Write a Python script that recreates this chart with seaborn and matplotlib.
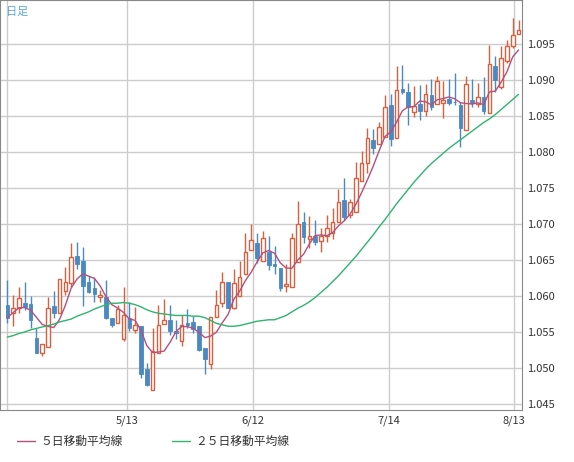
import numpy as np
import pandas as pd
import matplotlib
matplotlib.use("Agg")
import matplotlib.pyplot as plt
import seaborn as sns

# daily candles (open, high, low, close)
opens = [1.0588,1.0576,1.0584,1.0590,1.0589,1.0542,1.0521,1.0529,1.0586,1.0576,1.0607,1.0618,1.0656,1.0649,1.0619,1.0611,1.0598,1.0598,1.0570,1.0562,1.0540,1.0570,
         1.0553,1.0559,1.0498,1.0470,1.0521,1.0561,1.0567,1.0552,1.0538,1.0562,1.0564,1.0559,1.0528,1.0506,1.0571,1.0590,1.0620,1.0583,1.0600,1.0630,1.0664,1.0674,
         1.0649,1.0661,1.0644,1.0639,1.0614,1.0612,1.0647,1.0703,1.0679,1.0683,1.0676,1.0684,1.0687,1.0703,1.0733,1.0713,1.0717,1.0760,1.0785,1.0817,1.0811,1.0821,
         1.0865,1.0820,1.0888,1.0883,1.0855,1.0867,1.0857,1.0879,1.0866,1.0868,1.0874,1.0870,1.0865,1.0831,1.0872,1.0867,1.0876,1.0854,1.0919,1.0890,1.0927,1.0947,1.0964]
highs = [1.0622,1.0601,1.0613,1.0619,1.0600,1.0555,1.0534,1.0598,1.0607,1.0623,1.0640,1.0673,1.0675,1.0668,1.0628,1.0627,1.0608,1.0622,1.0570,1.0587,1.0612,1.0592,
         1.0585,1.0559,1.0507,1.0556,1.0587,1.0596,1.0588,1.0567,1.0574,1.0582,1.0572,1.0559,1.0528,1.0571,1.0608,1.0633,1.0620,1.0637,1.0648,1.0687,1.0700,1.0687,
         1.0690,1.0683,1.0670,1.0639,1.0645,1.0688,1.0732,1.0716,1.0711,1.0705,1.0694,1.0713,1.0722,1.0749,1.0764,1.0735,1.0786,1.0801,1.0834,1.0832,1.0841,1.0879,
         1.0881,1.0919,1.0921,1.0896,1.0892,1.0893,1.0895,1.0902,1.0906,1.0899,1.0902,1.0910,1.0870,1.0905,1.0902,1.0896,1.0904,1.0949,1.0933,1.0947,1.0956,1.0986,1.0984]
lows = [1.0562,1.0559,1.0576,1.0580,1.0555,1.0521,1.0517,1.0529,1.0570,1.0576,1.0601,1.0613,1.0638,1.0586,1.0604,1.0592,1.0592,1.0568,1.0557,1.0562,1.0538,1.0551,
        1.0549,1.0486,1.0475,1.0470,1.0521,1.0561,1.0546,1.0540,1.0530,1.0556,1.0549,1.0523,1.0492,1.0499,1.0571,1.0585,1.0583,1.0582,1.0600,1.0630,1.0664,1.0646,
        1.0649,1.0636,1.0630,1.0607,1.0606,1.0612,1.0647,1.0674,1.0666,1.0671,1.0661,1.0675,1.0679,1.0703,1.0705,1.0709,1.0717,1.0760,1.0771,1.0797,1.0811,1.0821,
        1.0808,1.0820,1.0881,1.0838,1.0849,1.0844,1.0850,1.0859,1.0866,1.0847,1.0865,1.0865,1.0807,1.0831,1.0863,1.0863,1.0853,1.0854,1.0884,1.0888,1.0923,1.0944,1.0964]
closes = [1.0570,1.0584,1.0597,1.0585,1.0566,1.0521,1.0534,1.0583,1.0577,1.0623,1.0619,1.0654,1.0645,1.0614,1.0606,1.0603,1.0601,1.0570,1.0560,1.0582,1.0573,1.0556,
          1.0560,1.0492,1.0476,1.0523,1.0560,1.0567,1.0552,1.0549,1.0560,1.0560,1.0554,1.0525,1.0512,1.0571,1.0587,1.0619,1.0583,1.0618,1.0627,1.0661,1.0678,1.0653,
          1.0681,1.0643,1.0642,1.0611,1.0617,1.0680,1.0700,1.0682,1.0683,1.0675,1.0684,1.0695,1.0703,1.0730,1.0710,1.0730,1.0764,1.0785,1.0819,1.0805,1.0835,1.0863,
          1.0818,1.0886,1.0884,1.0863,1.0864,1.0857,1.0881,1.0862,1.0899,1.0872,1.0868,1.0869,1.0834,1.0894,1.0868,1.0876,1.0857,1.0922,1.0900,1.0930,1.0947,1.0962,1.0969]
# 25-day average as drawn (earlier history not shown)
ma25 = [1.0543,1.0545,1.0548,1.0550,1.0553,1.0555,1.0557,1.0559,1.0561,1.0564,1.0566,
        1.0568,1.0572,1.0575,1.0578,1.0582,1.0585,1.0588,
        1.0590,1.0590,1.0591,1.0590,1.0588,
        1.0585,1.0581,1.0578,1.0576,1.0575,1.0574,1.0573,1.0573,
        1.0573,1.0572,1.0572,1.0570,1.0566,1.0562,1.0560,1.0558,
        1.0558,1.0559,1.0561,1.0563,1.0565,1.0566,1.0567,
        1.0567,1.0570,1.0573,1.0578,1.0583,1.0587,1.0592,
        1.0598,1.0605,1.0612,1.0620,1.0628,1.0637,1.0646,1.0655,
        1.0665,1.0675,1.0685,1.0696,1.0706,1.0717,1.0728,1.0738,
        1.0748,1.0758,1.0767,1.0776,1.0784,1.0791,1.0798,1.0805,
        1.0811,1.0817,1.0823,1.0829,1.0835,1.0841,1.0846,1.0852,1.0859,1.0866,1.0873,1.0880]
date_ticks = [0, 20.6, 42.3, 65.7, 87.2]
date_labels = ["", "5/13", "6/12", "7/14", "8/13"]
price_ticks = [1.045, 1.050, 1.055, 1.060, 1.065, 1.070, 1.075, 1.080, 1.085, 1.090, 1.095]

df = pd.DataFrame({"open": opens, "high": highs, "low": lows, "close": closes, "ma25": ma25})
df["i"] = np.arange(len(df))
df["ma5"] = df["close"].rolling(5, min_periods=1).mean()

up_c = "#d9603f"
dn_c = "#4b89c2"

sns.set_style("white")
plt.rcParams["font.family"] = ["Noto Sans CJK JP", "DejaVu Sans"]

fig = plt.figure(figsize=(5.74, 4.62), dpi=100)
ax = fig.add_axes([0.0, 1 - 410 / 462, 522 / 574, 410 / 462])

up = df[df.close >= df.open]
dn = df[df.close < df.open]
ax.vlines(up.i, up.low, up.high, color=up_c, lw=1, zorder=3)
ax.vlines(dn.i, dn.low, dn.high, color=dn_c, lw=1, zorder=3)
ax.bar(up.i, up.close - up.open, bottom=up.open, width=0.62, facecolor="white",
       edgecolor=up_c, linewidth=1, zorder=4)
ax.bar(dn.i, dn.open - dn.close, bottom=dn.close, width=0.62, color=dn_c,
       edgecolor=dn_c, linewidth=0.6, zorder=4)

sns.lineplot(data=df, x="i", y="ma5", ax=ax, color="#b4507e", lw=1, zorder=5)
sns.lineplot(data=df, x="i", y="ma25", ax=ax, color="#2fb36e", lw=1, zorder=5)

ax.set_xlim(-1.26, 88.6)
ax.set_ylim(1.04417, 1.10111)
ax.set_xticks(date_ticks)
ax.set_xticklabels(date_labels)
ax.set_yticks(price_ticks)
ax.set_yticklabels([f"{v:.3f}" for v in price_ticks])
ax.yaxis.tick_right()
ax.tick_params(axis="both", length=0, labelsize=8, colors="#333333", pad=4)
ax.grid(True, color="#cccccc", lw=1)
ax.set_xlabel("")
ax.set_ylabel("")
for s in ax.spines.values():
    s.set_color("#888888")

fig.text(6 / 574, 1 - 12 / 462, "日足", color="#5aa9d6", fontsize=8, va="center")
fig.lines.append(plt.Line2D([17 / 574, 35 / 574], [1 - 441 / 462] * 2, color="#b4507e", lw=1, transform=fig.transFigure))
fig.text(40 / 574, 1 - 441 / 462, "５日移動平均線", fontsize=8.5, color="#333333", va="center")
fig.lines.append(plt.Line2D([172 / 574, 190 / 574], [1 - 441 / 462] * 2, color="#2fb36e", lw=1, transform=fig.transFigure))
fig.text(195 / 574, 1 - 441 / 462, "２５日移動平均線", fontsize=8.5, color="#333333", va="center")

fig.savefig("out.png", dpi=100)
